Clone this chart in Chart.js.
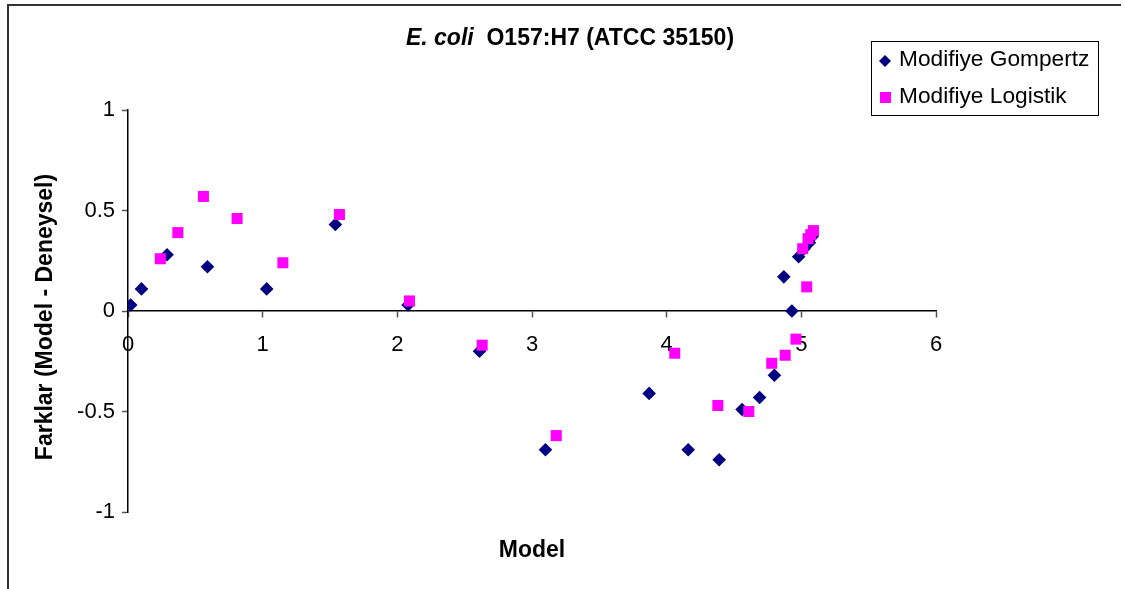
<!DOCTYPE HTML>
<html lang="tr">
<head>
    <meta charset="utf-8">
    <title>E. coli O157:H7 (ATCC 35150)</title>
    <script src="https://cdn.jsdelivr.net/npm/chart.js@4.4.0/dist/chart.umd.min.js"></script>
    <style>
        body {
            margin: 0;
            background: #fff;
        }

        #residuals {
            display: block;
        }
    </style>
</head>
<body>
    <canvas id="residuals" width="1125" height="589"></canvas>

    <script>
        // Modifiye Gompertz: model value vs. difference (model - experiment)
        const gompertzX = [0.02, 0.10, 0.29, 0.59, 1.03, 1.54, 2.08, 2.61, 3.10, 3.87, 4.16, 4.39,
                           4.56, 4.69, 4.80, 4.87, 4.93, 4.98, 5.02, 5.06, 5.08];
        const gompertzY = [0.03, 0.11, 0.28, 0.22, 0.11, 0.43, 0.03, -0.20, -0.69, -0.41, -0.69, -0.74,
                           -0.49, -0.43, -0.32, 0.17, 0.00, 0.27, 0.31, 0.34, 0.37];

        // Modifiye Logistik
        const logistikX = [0.24, 0.37, 0.56, 0.81, 1.15, 1.57, 2.09, 2.63, 3.18, 4.06, 4.38, 4.61,
                           4.78, 4.88, 4.96, 5.04, 5.01, 5.05, 5.07, 5.09];
        const logistikY = [0.26, 0.39, 0.57, 0.46, 0.24, 0.48, 0.05, -0.17, -0.62, -0.21, -0.47, -0.50,
                           -0.26, -0.22, -0.14, 0.12, 0.31, 0.36, 0.38, 0.40];

        const seriesNames = ['Modifiye Gompertz', 'Modifiye Logistik'];
        const xTicks = [0, 1, 2, 3, 4, 5, 6];
        const yTicks = [-1, -0.5, 0, 0.5, 1];

        const navy = '#000080';
        const magenta = '#FF00FF';
        const font = '"Liberation Sans", Arial, sans-serif';

        function toPoints(xs, ys) {
            return xs.map((x, i) => ({ x: x, y: ys[i] }));
        }

        // frame, title, axis titles and legend box
        const decorations = {
            id: 'decorations',
            afterDraw(chart) {
                const ctx = chart.ctx;
                ctx.save();

                ctx.strokeStyle = '#333';
                ctx.lineWidth = 2;
                ctx.beginPath();
                ctx.moveTo(8, 589);
                ctx.lineTo(8, 5);
                ctx.lineTo(1121, 5);
                ctx.stroke();

                ctx.fillStyle = '#000';
                ctx.textBaseline = 'alphabetic';
                ctx.textAlign = 'left';
                const italicPart = 'E. coli';
                const plainPart = '  O157:H7 (ATCC 35150)';
                ctx.font = 'italic bold 23px ' + font;
                const w1 = ctx.measureText(italicPart).width;
                ctx.font = 'bold 23px ' + font;
                const w2 = ctx.measureText(plainPart).width;
                const startX = 570 - (w1 + w2) / 2;
                ctx.font = 'italic bold 23px ' + font;
                ctx.fillText(italicPart, startX, 45);
                ctx.font = 'bold 23px ' + font;
                ctx.fillText(plainPart, startX + w1, 45);

                const area = chart.chartArea;
                ctx.textAlign = 'center';
                ctx.textBaseline = 'middle';
                ctx.fillText('Model', (area.left + area.right) / 2, 551);

                ctx.save();
                ctx.translate(46, 317);
                ctx.rotate(-Math.PI / 2);
                ctx.fillText('Farklar (Model - Deneysel)', 0, 0);
                ctx.restore();

                // legend
                ctx.strokeStyle = '#000';
                ctx.lineWidth = 1;
                ctx.strokeRect(871.5, 41.5, 227, 74);
                ctx.font = '22.7px ' + font;
                ctx.textAlign = 'left';
                ctx.fillText(seriesNames[0], 899, 60);
                ctx.fillText(seriesNames[1], 899, 97);

                ctx.fillStyle = navy;
                ctx.beginPath();
                ctx.moveTo(885, 55);
                ctx.lineTo(891, 61);
                ctx.lineTo(885, 67);
                ctx.lineTo(879, 61);
                ctx.closePath();
                ctx.fill();

                ctx.fillStyle = magenta;
                ctx.fillRect(880, 92, 11, 11);

                ctx.restore();
            }
        };

        new Chart(document.getElementById('residuals').getContext('2d'), {
            type: 'scatter',
            data: {
                datasets: [{
                    label: seriesNames[0],
                    data: toPoints(gompertzX, gompertzY),
                    pointStyle: 'rectRot',
                    pointRadius: 6.8,
                    pointBackgroundColor: navy,
                    pointBorderWidth: 0,
                    order: 2
                }, {
                    label: seriesNames[1],
                    data: toPoints(logistikX, logistikY),
                    pointStyle: 'rect',
                    pointRadius: 7.8,
                    pointBackgroundColor: magenta,
                    pointBorderWidth: 0,
                    order: 1
                }]
            },
            options: {
                responsive: false,
                animation: false,
                events: [],
                layout: {
                    autoPadding: false,
                    padding: { top: 110, right: 189, bottom: 77, left: 0 }
                },
                plugins: {
                    legend: { display: false },
                    title: { display: false },
                    tooltip: { enabled: false }
                },
                scales: {
                    x: {
                        type: 'linear',
                        position: { y: 0 },
                        min: xTicks[0],
                        max: xTicks[xTicks.length - 1],
                        afterBuildTicks: scale => { scale.ticks = xTicks.map(v => ({ value: v })); },
                        grid: {
                            drawOnChartArea: false,
                            tickLength: 6,
                            tickColor: '#555',
                            tickWidth: 1.5
                        },
                        border: { color: '#000', width: 1.5 },
                        ticks: {
                            color: '#000',
                            padding: 15,
                            maxRotation: 0,
                            font: { family: font, size: 22 }
                        }
                    },
                    y: {
                        type: 'linear',
                        min: yTicks[0],
                        max: yTicks[yTicks.length - 1],
                        afterBuildTicks: scale => { scale.ticks = yTicks.map(v => ({ value: v })); },
                        afterFit: scale => { scale.width = 128; },
                        grid: {
                            drawOnChartArea: false,
                            tickLength: 6,
                            tickColor: '#555',
                            tickWidth: 1.5
                        },
                        border: { color: '#000', width: 1.5 },
                        ticks: {
                            color: '#000',
                            padding: 7,
                            font: { family: font, size: 22 },
                            callback: v => String(v)
                        }
                    }
                }
            },
            plugins: [decorations]
        });
    </script>
</body>
</html>
